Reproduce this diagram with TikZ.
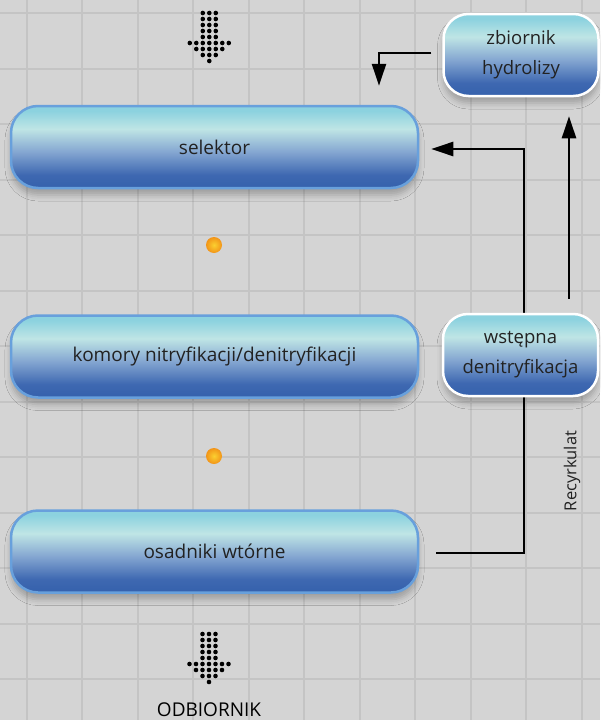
\documentclass[tikz,border=0pt]{standalone}
\usepackage{fontspec}
\setmainfont{Open Sans}
\usetikzlibrary{arrows.meta,shadows.blur}

\definecolor{bg}{HTML}{D4D4D4}
\definecolor{gridc}{HTML}{C4C4C4}
\definecolor{gTop}{HTML}{8CD2DF}
\definecolor{gLight}{HTML}{BFE5E5}
\definecolor{gMid}{HTML}{84A6D1}
\definecolor{gDeep}{HTML}{3E68B1}
\definecolor{gBot}{HTML}{3561AC}
\definecolor{edgeblue}{HTML}{68A0DC}
\definecolor{txt}{HTML}{222222}
\definecolor{dotIn}{HTML}{FAD030}
\definecolor{dotOut}{HTML}{F29418}

% vertical fill of the process boxes (path occupies 25bp..75bp)
\pgfdeclareverticalshading{boxgrad}{100bp}{%
  color(0bp)=(gBot); color(25bp)=(gBot); color(33bp)=(gDeep);
  color(47bp)=(gMid); color(61bp)=(gLight); color(72bp)=(gTop);
  color(100bp)=(gTop)}

\tikzset{
  bigbox/.style={draw=edgeblue, line width=2.5pt, rounded corners=27pt,
    shading=boxgrad, minimum width=407pt, minimum height=82pt,
    inner sep=0pt, text=txt, font=\fontsize{19}{22}\selectfont,
    blur shadow={shadow xshift=0pt, shadow yshift=-7pt,
      shadow blur radius=6pt, shadow opacity=25}},
  smallbox/.style={bigbox, draw=white, line width=2.5pt,
    minimum width=155pt, rounded corners=25pt, align=center,
    font=\fontsize{18.5}{30}\selectfont},
  flow/.style={line width=2.5pt, draw=black,
    -{Triangle[length=22pt,width=14pt]}},
  orangedot/.style={inner color=dotIn, outer color=dotOut, draw=none},
  dotarrow/.pic={
    \foreach \r in {0,...,4}
      \foreach \c in {-1,0,1}
        \fill (\c*6.5,\r*6) circle (2.3);
    \foreach \c in {-3,...,3} \fill (\c*6.5,30) circle (2.3);
    \foreach \c in {-2,...,2} \fill (\c*6.5,36) circle (2.3);
    \foreach \c in {-1,0,1}   \fill (\c*6.5,42) circle (2.3);
    \fill (0,48) circle (2.3);
  }
}

\begin{document}
\begin{tikzpicture}[x=1pt,y=-1pt]
  % background with grid
  \fill[bg] (0,0) rectangle (600,720);
  \useasboundingbox (0,0) rectangle (600,720);
  \foreach \k in {0,...,10}
    \draw[gridc, line width=2pt] (26.5+55.5*\k,0) -- (26.5+55.5*\k,720);
  \foreach \k in {0,...,12}
    \draw[gridc, line width=2pt] (0,13+55.5*\k) -- (600,13+55.5*\k);

  % inflow and outflow markers
  \pic at (209.3,13) {dotarrow};
  \pic at (209,634) {dotarrow};
  \node[font=\fontsize{19}{22}\selectfont, text=black] (odb) at (209,710) {ODBIORNIK};

  % guide abscissae of the vertical runs
  \coordinate (rx) at (524,0);
  \coordinate (ux) at (569,0);

  % process chain
  \node[bigbox] (sel) at (214.5,147) {selektor};
  \node[bigbox] (kom) at (214.5,356.5) {komory nitryfikacji/denitryfikacji};
  \node[bigbox] (osa) at (214.5,551.5) {osadniki wtórne};

  % return line, running behind the pre-denitrification tank
  \coordinate (selin) at ([xshift=12pt,yshift=-2pt]sel.east);
  \draw[flow] ([xshift=17pt,yshift=-1.5pt]osa.east) -| (rx |- selin) -- (selin);

  \node[smallbox] (zb) at (521,55) {zbiornik\\hydrolizy};
  \node[smallbox] (wst) at (520.5,355) {wstępna\\denitryfikacja};

  \draw[flow] ([xshift=-11pt,yshift=2pt]zb.west) -| ([yshift=19pt]sel.north -| 379,0);
  \draw[flow] (ux |- wst.north) ++(0,-14) -- ([yshift=-19pt]ux |- zb.south);

  \node[rotate=90, font=\fontsize{16.5}{20}\selectfont, text=txt] (rec) at (572,471) {Recyrkulat};

  % dots between stages
  \shade[orangedot] (214,245) circle (8);
  \shade[orangedot] (214,456) circle (8);
\end{tikzpicture}
\end{document}
